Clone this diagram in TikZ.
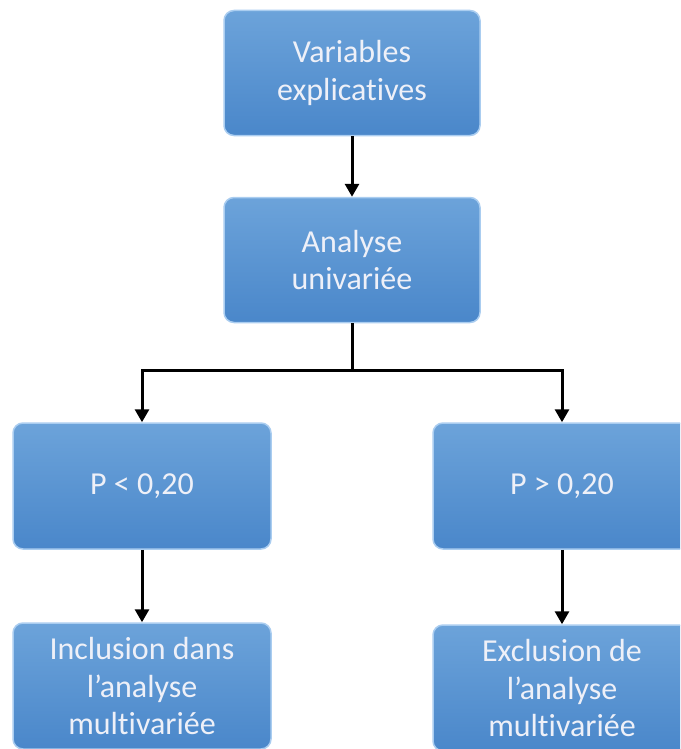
\documentclass[tikz,border=0pt]{standalone}
\usepackage{fontspec}
\setmainfont[Ligatures={NoCommon}]{Carlito}
\usetikzlibrary{arrows.meta,positioning}
\definecolor{boxtop}{RGB}{108,163,218}
\definecolor{boxbot}{RGB}{74,135,202}
\definecolor{boxedge}{RGB}{170,205,240}
\definecolor{txt}{RGB}{238,240,248}
\tikzset{
  box/.style={rectangle, rounded corners=10pt, minimum width=258pt, minimum height=126pt,
    top color=boxtop, bottom color=boxbot, draw=boxedge, line width=1.5pt,
    text=txt, align=center, inner sep=0pt,
    font=\fontsize{32}{37.5}\selectfont},
  conn/.style={line width=3pt, black},
  arr/.style={conn, -{Triangle[length=13pt,width=14pt]}}
}
\begin{document}
\begin{tikzpicture}[x=1pt,y=-1pt]
\useasboundingbox (0,0) rectangle (680,749);
\clip (0,0) rectangle (680,749);
\node[box, minimum width=256pt, minimum height=125pt] (var) at (352,73) {Variables\\explicatives};
\node[box, minimum width=256pt, minimum height=125pt] (ana) at (352,260) {Analyse\\univariée};
\node[box] (pinf) at (142,486) {P < 0,20};
\node[box] (psup) at (562,486) {P > 0,20};
\node[box] (inc) at (142,686) {Inclusion dans\\l’analyse\\multivariée};
\node[box] (exc) at (562,688) {Exclusion de\\l’analyse\\multivariée};
\coordinate (split) at (ana.south |- 0,370);
\draw[arr] (var.south) -- (ana.north);
\draw[conn] (ana.south) -- (split);
\draw[arr] (split) -| (pinf.north);
\draw[arr] (split) -| (psup.north);
\draw[arr] (pinf.south) -- (inc.north);
\draw[arr] (psup.south) -- (exc.north);
\end{tikzpicture}
\end{document}
